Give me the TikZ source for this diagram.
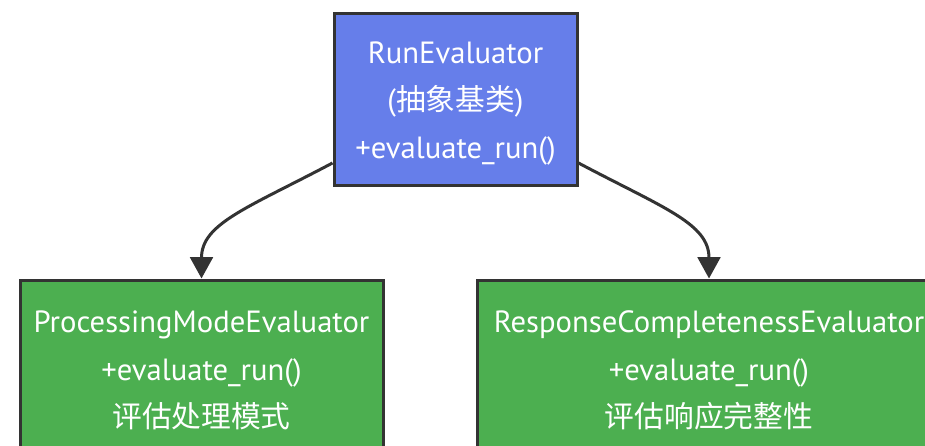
\documentclass[tikz,border=0pt]{standalone}
\usepackage{fontspec}
\setmainfont{PT Sans}
\newfontfamily\cjk[Scale=0.97]{Noto Sans CJK SC}
\usetikzlibrary{arrows.meta}
\definecolor{baseblue}{RGB}{102,126,234}
\definecolor{subgreen}{RGB}{76,175,80}
\definecolor{edgegray}{RGB}{51,51,51}
\newcommand\topgap{\rule{0pt}{23pt}}

\begin{document}
\begin{tikzpicture}[x=0.75pt,y=-0.75pt,
    cls/.style={draw=edgegray,line width=2.25pt,text=white,align=center,
      font=\fontsize{23}{35.5}\selectfont,minimum height=129pt,inner sep=0pt},
    conn/.style={draw=edgegray,line width=2.25pt,
      -{Triangle[length=16pt,width=17pt]}}]
  \useasboundingbox (0,0) rectangle (925,446);
  \clip (0,0) rectangle (925,446);

  % base class
  \node[cls,fill=baseblue,minimum width=182.25pt] (run) at (455.5,99)
    {\topgap RunEvaluator\\({\cjk 抽象基类})\\+evaluate\_run()};

  % subclasses
  \node[cls,fill=subgreen,minimum width=272.25pt] (proc) at (201.5,366)
    {\topgap ProcessingModeEvaluator\\+evaluate\_run()\\{\cjk 评估处理模式}};
  \node[cls,fill=subgreen,minimum width=348pt] (resp) at (709,366)
    {\topgap ResponseCompletenessEvaluator\\+evaluate\_run()\\{\cjk 评估响应完整性}};

  \draw[conn] ([yshift=-48pt]run.west) .. controls +(-85,45) and +(0,-55) .. (proc.north);
  \draw[conn] ([yshift=-48pt]run.east) .. controls +(85,45) and +(0,-55) .. (resp.north);
\end{tikzpicture}
\end{document}
